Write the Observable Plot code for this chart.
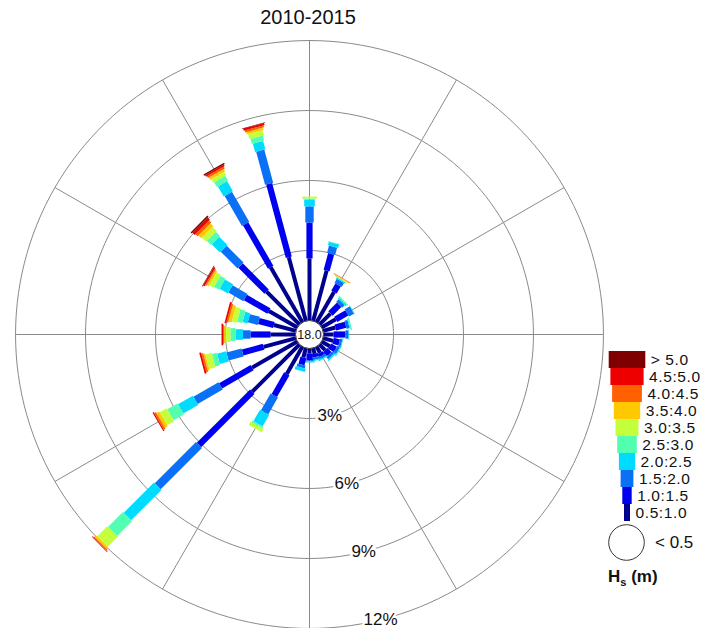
<!DOCTYPE html>
<html><head><meta charset="utf-8">
<script src="https://cdn.jsdelivr.net/npm/d3@7"></script>
<script src="https://cdn.jsdelivr.net/npm/@observablehq/plot@0.6"></script>
<style>
body{margin:0;background:#fff;font-family:"Liberation Sans",Arial,sans-serif;color:#111;}
#wrap{position:relative;width:712px;height:628px;overflow:hidden;}
#main{position:absolute;left:0;top:0;}
#title{position:absolute;left:0;width:616px;top:5px;text-align:center;font-size:20px;line-height:24px;}
#legend{position:absolute;left:590px;top:340px;}
#legend text{letter-spacing:0.6px;}
#calm{position:absolute;left:608px;top:524px;width:37px;height:37px;}
#calmtxt{position:absolute;left:655px;top:532px;font-size:17px;line-height:22px;}
#unit{position:absolute;left:608px;top:566px;font-size:17px;font-weight:bold;line-height:22px;}
#unit sub{font-size:11px;vertical-align:-4px;line-height:0;}
</style></head><body>
<div id="wrap">
  <div id="main"></div>
  <div id="title"></div>
  <div id="legend"></div>
  <svg id="calm" width="37" height="37"><circle cx="18.5" cy="18.5" r="17.8" fill="white" stroke="#333" stroke-width="1"/></svg>
  <div id="calmtxt"></div>
  <div id="unit">H<sub>s</sub> (m)</div>
</div>
<script>
// ---------- data ----------
const title = "2010-2015";
const directions = [0,15,30,45,60,75,90,105,120,135,150,165,180,195,210,225,240,255,270,285,300,315,330,345];
const classes = ["0.5:1.0","1.0:1.5","1.5:2.0","2.0:2.5","2.5:3.0","3.0:3.5","3.5:4.0","4.0:4.5","4.5:5.0","> 5.0"];
const colors  = ["#00008f","#0000f0","#0a70f5","#00dcff","#52ffb0","#c4ff3b","#ffc800","#ff6000","#ee0000","#7f0000"];
const calmLabel = "< 0.5";
const calmPct = 18.0;
const ringPct = [3, 6, 9, 12];
const spokeAngles = [0,30,60,90,120,150,180,210,240,270,300,330];

// frequency (%) of each Hs class per direction (same order as directions)
const hs05_10 = [2.66,2.24,1.50,0.67,0.70,0.55,0.43,0.45,0.40,0.35,0.30,0.25,0.21,0.42,1.35,2.87,2.24,1.44,1.07,0.98,1.41,2.00,2.73,2.83];
const hs10_15 = [1.54,0.74,0.35,0.53,0.55,0.45,0.51,0.27,0.28,0.25,0.15,0.15,0.30,0.31,1.07,3.23,1.56,0.93,0.86,0.67,1.16,1.58,2.15,3.26];
const hs15_20 = [0.69,0.32,0.20,0.15,0.25,0.13,0.13,0.10,0.12,0.12,0.10,0.10,0.04,0.13,0.83,2.50,1.24,0.67,0.32,0.44,0.74,1.02,1.48,1.47];
const hs20_25 = [0.30,0.15,0.05,0.07,0.02,0.04,0.03,0.03,0.04,0.06,0.05,0.05,0.05,0.14,0.57,1.84,0.74,0.40,0.32,0.22,0.41,0.50,0.50,0.37];
const hs25_30 = [0.04,0.03,0.02,0.06,0.00,0.05,0.00,0.00,0.02,0.00,0.00,0.00,0.00,0.00,0.08,0.90,0.50,0.22,0.22,0.23,0.25,0.26,0.24,0.23];
const hs30_35 = [0.08,0.00,0.03,0.00,0.00,0.00,0.00,0.00,0.00,0.00,0.00,0.00,0.00,0.00,0.15,0.62,0.35,0.27,0.21,0.22,0.21,0.24,0.17,0.22];
const hs35_40 = [0.00,0.00,0.03,0.00,0.00,0.00,0.00,0.00,0.00,0.00,0.00,0.00,0.00,0.00,0.00,0.09,0.14,0.08,0.06,0.14,0.09,0.17,0.11,0.10];
const hs40_45 = [0.00,0.00,0.02,0.00,0.00,0.00,0.00,0.00,0.00,0.00,0.00,0.00,0.00,0.00,0.00,0.05,0.08,0.08,0.04,0.08,0.06,0.13,0.09,0.09];
const hs45_50 = [0.00,0.00,0.00,0.00,0.00,0.00,0.00,0.00,0.00,0.00,0.00,0.00,0.00,0.00,0.00,0.03,0.05,0.08,0.07,0.07,0.07,0.13,0.08,0.09];
const hs50    = [0.00,0.00,0.00,0.00,0.00,0.00,0.00,0.00,0.00,0.00,0.00,0.00,0.00,0.00,0.00,0.00,0.00,0.00,0.00,0.00,0.03,0.07,0.06,0.02];
const series = [hs05_10, hs10_15, hs15_20, hs20_25, hs25_30, hs30_35, hs35_40, hs40_45, hs45_50, hs50];

// ---------- layout ----------
const W = 712, H = 628, cx = 309, cy = 334, k = 23.33; // px per percent
const off = 14 / k;          // radial offset (calm circle radius) in % units
const rad = a => a * Math.PI / 180;
const px = (r, a) => (off + r) * Math.sin(rad(a));
const py = (r, a) => (off + r) * Math.cos(rad(a));
const barW = j => 4 + 2.2 * j;
const legW = j => 6 + 3.4 * j;
const labelAngle = 166;

// stacked segments
const segs = [];
directions.forEach((dir, i) => {
  let cum = 0;
  series.forEach((s, j) => {
    const v = s[i];
    if (v > 0) segs.push({dir, j, cls: classes[j], r1: cum, r2: cum + v});
    cum += v;
  });
});

const ringPts = ringPct.flatMap(p => d3.range(0, 361, 2).map(a => ({p, a})));
const font = '"Liberation Sans", Arial, sans-serif';

const main = Plot.plot({
  width: W, height: H, margin: 0,
  x: {domain: [-cx / k, (W - cx) / k], range: [0, W], axis: null},
  y: {domain: [-(H - cy) / k, cy / k], range: [H, 0], axis: null},
  color: {domain: classes, range: colors},
  style: {fontFamily: font, background: "transparent", overflow: "visible"},
  marks: [
    Plot.line(ringPts, {x: d => px(d.p, d.a), y: d => py(d.p, d.a), z: "p", stroke: "#8a8a8a", strokeWidth: 1}),
    Plot.link(spokeAngles, {x1: () => 0, y1: () => 0, x2: a => px(d3.max(ringPct), a), y2: a => py(d3.max(ringPct), a), stroke: "#8a8a8a", strokeWidth: 1}),
    Plot.link(segs, {
      x1: d => px(d.r1, d.dir), y1: d => py(d.r1, d.dir),
      x2: d => px(d.r2, d.dir), y2: d => py(d.r2, d.dir),
      stroke: "cls", strokeWidth: d => barW(d.j), strokeLinecap: "butt"
    }),
    Plot.text(ringPct, {x: p => px(p, labelAngle), y: p => py(p, labelAngle), text: p => p + "%",
      fontSize: 17, fill: "#111", stroke: "white", strokeWidth: 5}),
    Plot.dot([calmPct], {x: () => 0, y: () => 0, r: 14, fill: "white", stroke: "#333", strokeWidth: 1}),
    Plot.text([calmPct], {x: () => 0, y: () => 0, text: d => d.toFixed(1), fontSize: 12.5, fill: "#111"})
  ]
});
document.getElementById("main").appendChild(main);
document.getElementById("title").textContent = title;
document.getElementById("calmtxt").textContent = calmLabel;

const legend = Plot.plot({
  width: 122, height: 190, marginTop: 6, marginBottom: 5, marginLeft: 0, marginRight: 0,
  x: {domain: [-37, 85], range: [0, 122], axis: null},
  y: {type: "band", domain: classes.slice().reverse(), padding: 0, axis: null},
  color: {domain: classes, range: colors},
  style: {fontFamily: font, background: "transparent", overflow: "visible"},
  marks: [
    Plot.barX(classes, {y: d => d, x1: (d, i) => -legW(i) / 2, x2: (d, i) => legW(i) / 2, fill: d => d}),
    Plot.text(classes, {y: d => d, x: (d, i) => legW(i) / 2, dx: 5, text: d => d, textAnchor: "start", fontSize: 15.5, fill: "#111"})
  ]
});
document.getElementById("legend").appendChild(legend);
</script>
</body></html>
